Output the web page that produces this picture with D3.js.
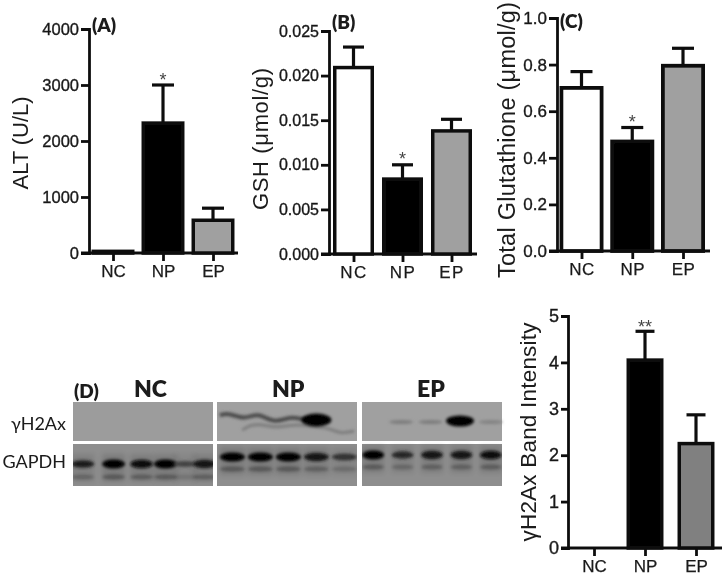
<!DOCTYPE html>
<html><head><meta charset="utf-8">
<script src="https://cdn.jsdelivr.net/npm/d3@7"></script>
<style>html,body{margin:0;padding:0;background:#fff}svg{display:block}</style>
</head><body><svg id="c" width="724" height="577"></svg>
<script>
const categories = ["NC","NP","EP"];
const altValues = [30,2320,585];
const altErrorTops = [null,3000,800];
const altTicks = [0,1000,2000,3000,4000];
const gshValues = [0.0209,0.0084,0.0138];
const gshErrorTops = [0.0232,0.0100,0.0151];
const gshTicks = [0,0.005,0.010,0.015,0.020,0.025];
const totalValues = [0.70,0.47,0.795];
const totalErrorTops = [0.77,0.53,0.87];
const totalTicks = [0,0.2,0.4,0.6,0.8,1.0];
const bandValues = [0,4.05,2.25];
const bandErrorTops = [null,4.67,2.87];
const bandTicks = [0,1,2,3,4,5];
const laneNC = [7,29,49,66,80,94];
const gapdhNC = [0.75,1,0.9,0.95,0.45,0.85];
const laneNP = [11,31,51,71,91];
const gapdhNP = [1,1,1,0.85,0.6];
const laneEP = [8,29,50,71,92];
const gapdhEP = [0.95,0.7,0.85,0.85,0.9];
const h2axLaneEP = [28,49,70,92];
const h2axEP = [0.22,0.22,1,0.18];

const svg = d3.select("#c");
const defs = svg.append("defs");
[["b04",0.5],["b1",1.5],["b2",2.4]].forEach(([id,s])=>{
  defs.append("filter").attr("id",id).attr("x","-40%").attr("y","-150%").attr("width","180%").attr("height","400%")
    .append("feGaussianBlur").attr("stdDeviation",s);
});
const root = svg.append("g").attr("filter","url(#b04)");
const INK = "#111";

function barPanel(o){
  const g = root.append("g");
  const y = d3.scaleLinear().domain(o.domain).range([o.y0,o.y1]);
  const x = d3.scalePoint().domain(categories).range(o.xr);
  const ya = d3.axisLeft(y).tickValues(o.ticks).tickSize(o.tick).tickPadding(2).tickFormat(d3.format(o.fmt));
  const yg = g.append("g").attr("transform",`translate(${o.ax},0)`).call(ya);
  const xa = d3.axisBottom(x).tickSize(8).tickPadding(4).tickSizeOuter(0);
  const xg = g.append("g").attr("transform",`translate(0,${o.y0})`).call(xa);
  xg.select(".domain").remove();
  yg.selectAll("path,line").attr("stroke",INK).attr("stroke-width",2.8);
  xg.selectAll("line").attr("stroke",INK).attr("stroke-width",2.8);
  g.append("line").attr("x1",o.ax-o.tick).attr("x2",o.xEnd).attr("y1",o.y0).attr("y2",o.y0).attr("stroke",INK).attr("stroke-width",2.8);
  yg.selectAll("text").attr("font-family","Liberation Sans").attr("font-size",o.fs).attr("fill","#1a1a1a").attr("stroke","#1a1a1a").attr("stroke-width",0.35);
  xg.selectAll("text").attr("font-family","Liberation Sans").attr("font-size",o.xfs||17).attr("fill","#1a1a1a").attr("stroke","#1a1a1a").attr("stroke-width",0.25).attr("letter-spacing",o.ls||0);

  const data = categories.map((c,i)=>({c,v:o.values[i],t:o.tops[i],fill:o.fills[i]}));
  const sw = o.sw;
  g.selectAll(".err").data(data.filter(d=>d.t!==null)).join("g").each(function(d){
    const e = d3.select(this);
    e.append("line").attr("x1",x(d.c)).attr("x2",x(d.c)).attr("y1",y(d.v)).attr("y2",y(d.t)).attr("stroke",INK).attr("stroke-width",3.2);
    e.append("line").attr("x1",x(d.c)-o.cap).attr("x2",x(d.c)+o.cap).attr("y1",y(d.t)).attr("y2",y(d.t)).attr("stroke",INK).attr("stroke-width",3.2);
  });
  g.selectAll(".bar").data(data.filter(d=>d.v>0)).join("rect")
    .attr("x",d=>x(d.c)-o.bw/2+sw/2).attr("width",o.bw-sw)
    .attr("y",d=>y(d.v)).attr("height",d=>Math.max(0,o.y0-y(d.v)))
    .attr("fill",d=>d.fill).attr("stroke",INK).attr("stroke-width",sw);

  g.append("text").attr("transform",`translate(${o.tx},${o.ty}) rotate(-90)`).attr("text-anchor","middle")
    .attr("font-family","Liberation Sans").attr("font-size",o.tfs).attr("fill","#1a1a1a")
    .attr("textLength",o.tlen).attr("lengthAdjust","spacing").text(o.title);
  if(o.letter) g.append("text").attr("x",o.lx).attr("y",o.ly).attr("font-family","Lato").attr("font-weight",800)
    .attr("font-size",19).attr("fill","#1a1a1a").text(o.letter);
  (o.stars||[]).forEach(s=>{
    g.append("text").attr("x",x(s.c)).attr("y",y(o.tops[categories.indexOf(s.c)])-s.dy).attr("text-anchor","middle")
     .attr("font-family","Liberation Sans").attr("font-size",s.fs).attr("fill","#444").text(s.t);
  });
}

barPanel({domain:[0,4000],ticks:altTicks,fmt:"d",values:altValues,tops:altErrorTops,fills:["#fff","#000","#a0a0a0"],
  ax:89,y0:253,y1:29,xr:[113,213],xEnd:238,tick:8,bw:43,sw:3.5,cap:11,fs:16.5,ls:0,
  title:"ALT (U/L)",tx:28,ty:143,tfs:22,tlen:93,letter:"(A)",lx:92,ly:32,stars:[{c:"NP",t:"*",dy:-1,fs:18}]});
barPanel({domain:[0,0.025],ticks:gshTicks,fmt:".3f",values:gshValues,tops:gshErrorTops,fills:["#fff","#000","#a0a0a0"],
  ax:329,y0:254,y1:31,xr:[353.5,451.5],xEnd:477,tick:8,bw:41,sw:3.5,cap:10.5,fs:16,ls:1.5,
  title:"GSH (μmol/g)",tx:268,ty:139,tfs:22,tlen:142,letter:"(B)",lx:332,ly:29,stars:[{c:"NP",t:"*",dy:0,fs:18}]});
barPanel({domain:[0,1],ticks:totalTicks,fmt:".1f",values:totalValues,tops:totalErrorTops,fills:["#fff","#000","#a0a0a0"],
  ax:557,y0:251,y1:18,xr:[581.5,683],xEnd:710,tick:8,bw:44,sw:3.8,cap:11,fs:17,ls:0.5,
  title:"Total Glutathione (μmol/g)",tx:515,ty:140,tfs:23.5,tlen:276,letter:"(C)",lx:560,ly:28,stars:[{c:"NP",t:"*",dy:0,fs:18}]});
barPanel({domain:[0,5],ticks:bandTicks,fmt:"d",values:bandValues,tops:bandErrorTops,fills:["#fff","#000","#808080"],
  ax:568,y0:548,y1:316,xr:[594,696],xEnd:722,tick:7,bw:37,sw:3.5,cap:9.5,fs:18,ls:0,
  title:"γH2Ax Band Intensity",tx:536,ty:432,tfs:22.5,tlen:219,stars:[{c:"NP",t:"**",dy:-2,fs:18}]});

// western blot strips
const panels = [{n:"NC",x0:73,x1:213,lanes:laneNC,g:gapdhNC,bw:23},
                {n:"NP",x0:217,x1:357,lanes:laneNP,g:gapdhNP,bw:25},
                {n:"EP",x0:362,x1:502,lanes:laneEP,g:gapdhEP,bw:22}];
const rows = {h:[402,441],g:[444,486]};
const blot = root.append("g");
const bandFill = d3.scaleLinear().domain([0,1]).range(["#7a7a7a","#000"]);
panels.forEach(p=>{
  const px = d3.scaleLinear().domain([0,100]).range([p.x0,p.x1]);
  const clip = `clip${p.n}`;
  defs.append("clipPath").attr("id",clip).append("rect").attr("x",p.x0).attr("y",rows.h[0]).attr("width",p.x1-p.x0).attr("height",rows.g[1]-rows.h[0]);
  const s = blot.append("g").attr("clip-path",`url(#${clip})`);
  s.append("rect").attr("x",p.x0).attr("width",p.x1-p.x0).attr("y",rows.h[0]).attr("height",rows.h[1]-rows.h[0]).attr("fill",p.n==="NC"?"#9c9c9c":"#a0a0a0");
  s.append("rect").attr("x",p.x0).attr("width",p.x1-p.x0).attr("y",rows.g[0]).attr("height",rows.g[1]-rows.g[0]).attr("fill","#8e8e8e");
  const yg = p.n==="NC"?464:(p.n==="NP"?457:455);
  const y2 = p.n==="NC"?477:(p.n==="NP"?469:467);
  s.selectAll(".low").data(p.lanes).join("ellipse").attr("cx",d=>px(d)).attr("cy",y2).attr("rx",p.bw/2).attr("ry",2.6)
    .attr("fill","#000").attr("opacity",(d,i)=>0.3*p.g[i]).attr("filter","url(#b1)");
  s.selectAll(".smear").data(p.lanes).join("rect").attr("x",d=>px(d)-p.bw/2).attr("width",p.bw).attr("y",yg-10).attr("height",28)
    .attr("fill","#000").attr("opacity",(d,i)=>0.12*p.g[i]).attr("filter","url(#b2)");
  s.selectAll(".gb").data(p.lanes).join("ellipse").attr("cx",d=>px(d)).attr("cy",yg).attr("rx",p.bw/2)
    .attr("ry",(d,i)=>1.6+3*p.g[i]).attr("fill",(d,i)=>bandFill(p.g[i])).attr("filter","url(#b1)");
});
const npx = d3.scaleLinear().domain([0,100]).range([217,357]);
const wave = d3.line().x(d=>npx(d[0])).y(d=>d[1]).curve(d3.curveBasis);
const waveUpper = [[2,415],[9,413],[20,420],[29,412],[41,424],[52,416],[62,420],[70,420]];
const waveLower = [[18,430],[24,425],[30,424],[42,428],[52,425],[62,425],[72,427],[80,428],[88,434],[98,431]];
blot.append("path").attr("d",wave(waveUpper)).attr("fill","none").attr("stroke","#4a4a4a").attr("stroke-width",4).attr("filter","url(#b1)");
blot.append("path").attr("d",wave(waveLower)).attr("fill","none").attr("stroke","#7c7c7c").attr("stroke-width",3).attr("filter","url(#b1)");
blot.append("ellipse").attr("cx",npx(71)).attr("cy",420).attr("rx",15).attr("ry",6.5).attr("fill","#000").attr("filter","url(#b1)");
const epx = d3.scaleLinear().domain([0,100]).range([362,502]);
const hFill = d3.scaleLinear().domain([0,1]).range(["#a0a0a0","#000"]);
blot.selectAll(".hep").data(h2axLaneEP).join("ellipse").attr("cx",d=>epx(d)).attr("cy",(d,i)=>i===2?421:422)
  .attr("rx",(d,i)=>i===2?14:12).attr("ry",(d,i)=>i===2?5.5:2).attr("fill",(d,i)=>hFill(h2axEP[i])).attr("filter","url(#b1)");

[["(D)",74,398,19],["NC",134,397,23],["NP",272,397,23],["EP",417,397,23]].forEach(([t,x,y,fs])=>{
  root.append("text").attr("x",x).attr("y",y).attr("font-family","Lato").attr("font-weight",800).attr("font-size",fs).attr("fill","#1a1a1a").text(t);
});
[["γH2Ax",66,430],["GAPDH",66,468]].forEach(([t,x,y])=>{
  root.append("text").attr("x",x).attr("y",y).attr("text-anchor","end").attr("font-family","Lato").attr("font-size",18).attr("fill","#1a1a1a").text(t);
});
</script></body></html>
